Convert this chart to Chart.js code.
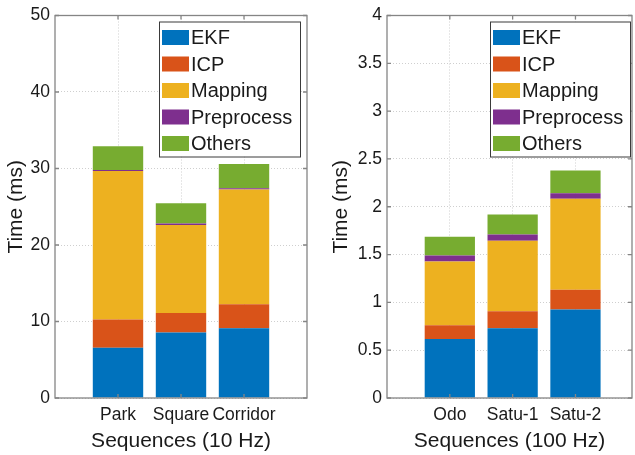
<!DOCTYPE html>
<html>
<head>
<meta charset="utf-8">
<script src="https://cdn.jsdelivr.net/npm/chart.js@4/dist/chart.umd.min.js"></script>
<style>
  html, body { margin: 0; padding: 0; background: #fff; overflow: hidden; }
  #wrapL { position: absolute; left: 0; top: 0; width: 318px; height: 455px; }
  #wrapR { position: absolute; left: 318px; top: 0; width: 317px; height: 455px; }
</style>
</head>
<body>
<div id="wrapL"><canvas id="chartL"></canvas></div>
<div id="wrapR"><canvas id="chartR"></canvas></div>
<script>
const parts = ['EKF', 'ICP', 'Mapping', 'Preprocess', 'Others'];
const partColors = ['#0072BD', '#D95319', '#EDB120', '#7E2F8E', '#77AC30'];

// 10 Hz sequences
const seq10 = ['Park', 'Square', 'Corridor'];
const ekf10 = [6.57, 8.57, 9.13];
const icp10 = [3.69, 2.53, 3.12];
const mapping10 = [19.4, 11.5, 15.0];
const preprocess10 = [0.15, 0.2, 0.18];
const others10 = [3.1, 2.65, 3.15];
const yTicks10 = [0, 10, 20, 30, 40, 50];

// 100 Hz sequences
const seq100 = ['Odo', 'Satu-1', 'Satu-2'];
const ekf100 = [0.616, 0.73, 0.925];
const icp100 = [0.146, 0.177, 0.207];
const mapping100 = [0.665, 0.738, 0.952];
const preprocess100 = [0.062, 0.065, 0.056];
const others100 = [0.197, 0.208, 0.239];
const yTicks100 = [0, 0.5, 1, 1.5, 2, 2.5, 3, 3.5, 4];

const FONT = '"Liberation Sans", Arial, sans-serif';
const TXT = '#1a1a1a';
const AXIS = '#858585';

// box round the plot + inward tick marks, like matlab
const framePlugin = {
  id: 'frame',
  afterDatasetsDraw(chart) {
    const { ctx, chartArea: a, scales: { x, y } } = chart;
    ctx.save();
    ctx.strokeStyle = AXIS;
    ctx.lineWidth = 1.3;
    ctx.strokeRect(a.left, a.top, a.right - a.left, a.bottom - a.top);
    ctx.beginPath();
    x.ticks.forEach(t => {
      const px = x.getPixelForValue(t.value);
      ctx.moveTo(px, a.bottom); ctx.lineTo(px, a.bottom - 4);
      ctx.moveTo(px, a.top); ctx.lineTo(px, a.top + 4);
    });
    y.ticks.forEach(t => {
      const py = y.getPixelForValue(t.value);
      ctx.moveTo(a.left, py); ctx.lineTo(a.left + 4, py);
      ctx.moveTo(a.right, py); ctx.lineTo(a.right - 4, py);
    });
    ctx.stroke();
    ctx.restore();
  }
};

// legend drawn inside the plot (north east)
const boxLegend = {
  id: 'boxLegend',
  afterDraw(chart, args, opts) {
    const { ctx, chartArea: a } = chart;
    const w = opts.width, h = opts.height;
    const bx = a.right - opts.offsetRight - w;
    const by = a.top + opts.offsetTop;
    ctx.save();
    ctx.fillStyle = '#fff';
    ctx.fillRect(bx, by, w, h);
    ctx.strokeStyle = '#3a3a3a';
    ctx.lineWidth = 1;
    ctx.strokeRect(bx + 0.5, by + 0.5, w, h);
    ctx.font = '20px ' + FONT;
    ctx.textBaseline = 'middle';
    chart.data.datasets.forEach((ds, i) => {
      const cy = by + 16 + i * 26.5;
      ctx.fillStyle = ds.backgroundColor;
      ctx.fillRect(bx + 3, cy - 7.5, 27, 15);
      ctx.fillStyle = TXT;
      ctx.fillText(ds.label, bx + 32, cy + 1);
    });
    ctx.restore();
  }
};

function makeDatasets(seqs, series) {
  return parts.map((p, i) => ({
    label: p,
    data: seqs.map((s, j) => ({ x: j + 1, y: series[i][j] })),
    backgroundColor: partColors[i],
    borderWidth: 0,
    barPercentage: 0.8,
    categoryPercentage: 1
  }));
}

function makeChart(id, seqs, series, yTicks, xMax, xTitle, sizes) {
  return new Chart(document.getElementById(id), {
    type: 'bar',
    data: { datasets: makeDatasets(seqs, series) },
    plugins: [framePlugin, boxLegend],
    options: {
      animation: false,
      responsive: true,
      maintainAspectRatio: false,
      layout: { padding: { top: 13, right: sizes.right, left: 0, bottom: 0 } },
      plugins: {
        legend: { display: false },
        tooltip: { enabled: false },
        boxLegend: sizes.legend
      },
      scales: {
        x: {
          type: 'linear',
          stacked: true,
          offset: false,
          min: 0,
          max: xMax,
          afterBuildTicks: s => { s.ticks = seqs.map((_, j) => ({ value: j + 1 })); },
          afterFit: s => { s.height = 57; },
          grid: { color: '#cfcfcf', lineWidth: 1, drawTicks: false, offset: false },
          border: { display: false, dash: [1, 2] },
          ticks: {
            padding: 7,
            color: TXT,
            font: { family: FONT, size: 17.5 },
            maxRotation: 0,
            autoSkip: false,
            callback: v => seqs[v - 1]
          },
          title: {
            display: true,
            text: xTitle,
            color: TXT,
            font: { family: FONT, size: 21 },
            padding: { top: 0, bottom: 1 }
          }
        },
        y: {
          stacked: true,
          min: yTicks[0],
          max: yTicks[yTicks.length - 1],
          afterBuildTicks: s => { s.ticks = yTicks.map(v => ({ value: v })); },
          afterFit: s => { s.width = sizes.yWidth; },
          grid: { color: '#cfcfcf', lineWidth: 1, drawTicks: false },
          border: { display: false, dash: [1, 2] },
          ticks: {
            padding: 5,
            color: TXT,
            font: { family: FONT, size: 17.5 },
            autoSkip: false,
            callback: v => String(v)
          },
          title: {
            display: true,
            text: 'Time (ms)',
            color: TXT,
            font: { family: FONT, size: 21 },
            padding: { top: sizes.titlePad, bottom: 0 }
          }
        }
      }
    }
  });
}

makeChart('chartL', seq10,
  [ekf10, icp10, mapping10, preprocess10, others10],
  yTicks10, 4, 'Sequences (10 Hz)',
  { right: 11, yWidth: 55, titlePad: 4,
    legend: { width: 141, height: 135, offsetRight: 7, offsetTop: 6 } });

makeChart('chartR', seq100,
  [ekf100, icp100, mapping100, preprocess100, others100],
  yTicks100, 3.9, 'Sequences (100 Hz)',
  { right: 3, yWidth: 69, titlePad: 11,
    legend: { width: 140, height: 135, offsetRight: 2, offsetTop: 6 } });
</script>
</body>
</html>
